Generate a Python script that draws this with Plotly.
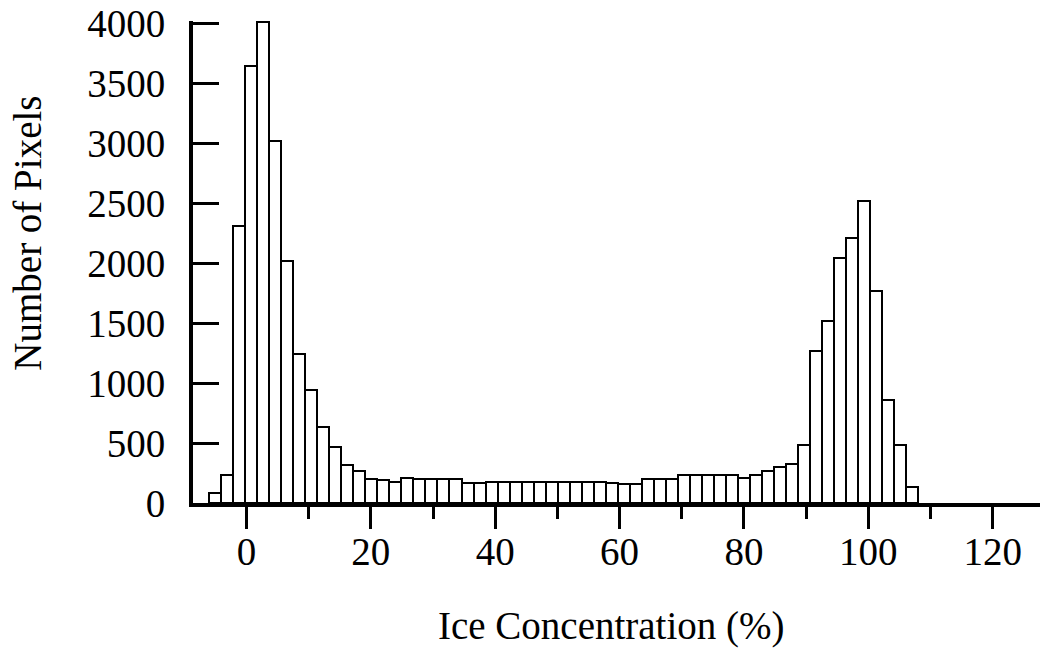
import numpy as np
import plotly.graph_objects as go

# Histogram bins (ice concentration, %)
bin_start = -6.0
bin_end = 108.0
pixel_counts = [
    80, 235, 2310, 3640, 4010, 3020, 2020, 1240, 940, 630,
    470, 320, 265, 200, 188, 174, 210, 200, 200, 200,
    200, 170, 165, 172, 172, 172, 172, 172, 172, 172,
    172, 172, 172, 168, 162, 162, 203, 203, 203, 230,
    230, 230, 230, 230, 205, 237, 265, 300, 322, 485,
    1270, 1515, 2045, 2205, 2515, 1765, 860, 480, 130,
]
x_major_ticks = [0, 20, 40, 60, 80, 100, 120]
x_minor_ticks = [10, 30, 50, 70, 90, 110]
y_ticks = [0, 500, 1000, 1500, 2000, 2500, 3000, 3500, 4000]

n_bins = len(pixel_counts)
edges = np.linspace(bin_start, bin_end, n_bins + 1)
centers = (edges[:-1] + edges[1:]) / 2
bin_width = (bin_end - bin_start) / n_bins

FONT = "Liberation Serif"
FS = 39

fig = go.Figure(
    go.Bar(
        x=centers,
        y=pixel_counts,
        width=bin_width,
        marker=dict(color="white", line=dict(color="black", width=2)),
        showlegend=False,
    )
)

fig.update_layout(
    width=1042,
    height=651,
    margin=dict(l=193, r=2, t=18, b=148),
    paper_bgcolor="white",
    plot_bgcolor="white",
    font=dict(family=FONT, size=FS, color="black"),
    bargap=0,
    xaxis=dict(
        range=[-8.6, 127.6],
        showline=True,
        linewidth=4,
        linecolor="black",
        showgrid=False,
        zeroline=False,
        ticks="outside",
        ticklen=22,
        tickwidth=3,
        tickcolor="black",
        tickvals=x_major_ticks,
        ticktext=[str(v) for v in x_major_ticks],
        tickfont=dict(family=FONT, size=FS, color="black"),
        ticklabelstandoff=-11,
        minor=dict(
            tickvals=x_minor_ticks,
            ticks="outside",
            ticklen=12,
            tickwidth=3,
            tickcolor="black",
            showgrid=False,
        ),
    ),
    yaxis=dict(
        range=[0, 4017],
        showline=True,
        linewidth=4,
        linecolor="black",
        showgrid=False,
        zeroline=False,
        ticks="inside",
        ticklen=26,
        tickwidth=3,
        tickcolor="black",
        tickvals=y_ticks,
        ticktext=[str(v) for v in y_ticks],
        tickfont=dict(family=FONT, size=FS, color="black"),
        ticklabelstandoff=16,
        ticklabeloverflow="allow",
    ),
    annotations=[
        dict(
            text="Ice Concentration (%)",
            xref="paper", yref="paper",
            x=(611 - 193) / 847, y=(503 - 627) / 485,
            xanchor="center", yanchor="middle",
            showarrow=False,
            font=dict(family=FONT, size=FS, color="black"),
        ),
        dict(
            text="Number of Pixels",
            xref="paper", yref="paper",
            x=(28 - 193) / 847, y=(503 - 232) / 485,
            xanchor="center", yanchor="middle",
            textangle=-90,
            showarrow=False,
            font=dict(family=FONT, size=FS, color="black"),
        ),
    ],
)

fig.write_html("out.html")
